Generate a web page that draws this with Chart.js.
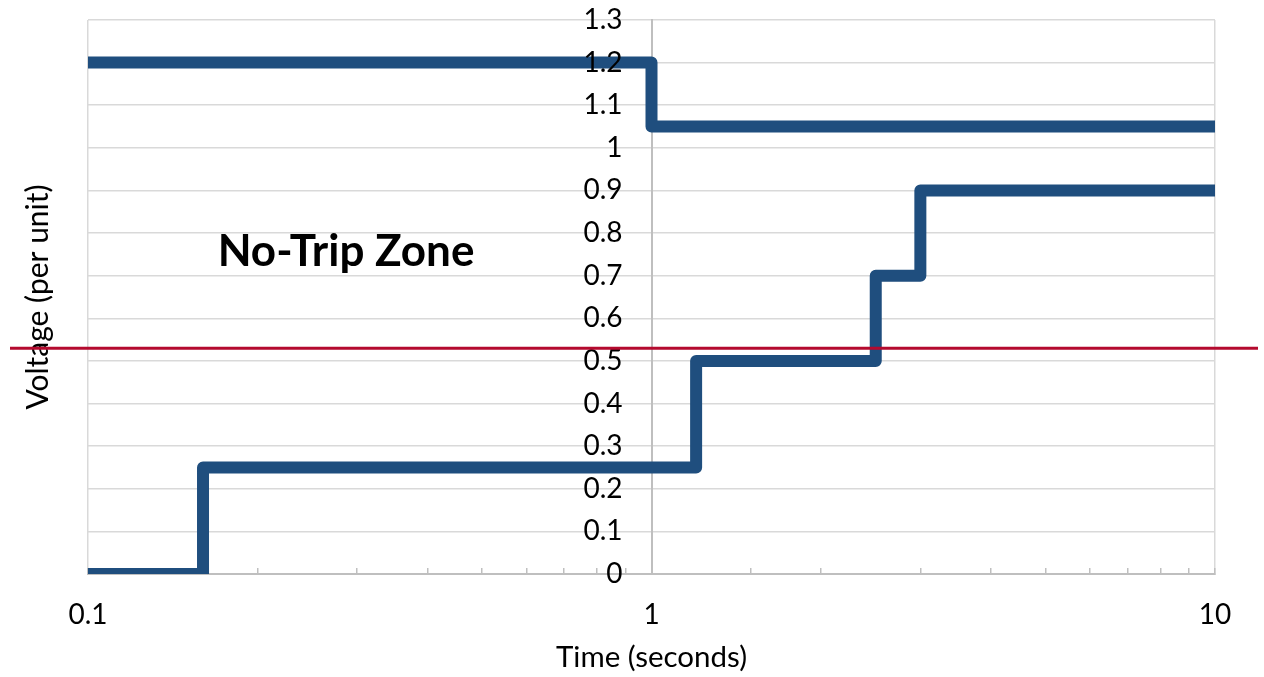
<!DOCTYPE html>
<html><head><meta charset="utf-8">
<script src="https://cdn.jsdelivr.net/npm/chart.js@4/dist/chart.umd.min.js"></script>
<style>html,body{margin:0;padding:0;background:#fff;overflow:hidden}</style>
</head><body>
<canvas id="c" width="1264" height="677" style="width:1264px;height:677px;display:block"></canvas>
<script>
const lowerTimes = [0.1, 0.16, 1.2, 2.5, 3, 10];
const lowerVolts = [0, 0.25, 0.5, 0.7, 0.9, 0.9];
const upperTimes = [0.1, 1, 10];
const upperVolts = [1.2, 1.05, 1.05];
const xTickLabels = [0.1, 1, 10];
const yTickValues = [0, 0.1, 0.2, 0.3, 0.4, 0.5, 0.6, 0.7, 0.8, 0.9, 1, 1.1, 1.2, 1.3];
const referenceVoltage = 0.53;
const zoneText = 'No-Trip Zone';
const zoneTime = 0.287;
const zoneVolt = 0.755;

const FONT = 'Lato, "Open Sans", sans-serif';
const isDecade = v => Math.abs(Math.log10(v) - Math.round(Math.log10(v))) < 1e-6;

const overlay = {
  id: 'overlay',
  afterDatasetsDraw(chart) {
    const {ctx, scales} = chart;
    ctx.save();
    ctx.font = 'bold 44px ' + FONT;
    ctx.fillStyle = '#000';
    ctx.textAlign = 'center';
    ctx.textBaseline = 'middle';
    ctx.fillText(zoneText, scales.x.getPixelForValue(zoneTime), scales.y.getPixelForValue(zoneVolt));
    ctx.restore();
  },
  afterDraw(chart) {
    const {ctx, scales} = chart;
    const y = scales.y.getPixelForValue(referenceVoltage);
    ctx.save();
    ctx.strokeStyle = '#B40A2E';
    ctx.lineWidth = 3;
    ctx.beginPath();
    ctx.moveTo(10, y);
    ctx.lineTo(chart.width - 6, y);
    ctx.stroke();
    ctx.restore();
  }
};

const toPoints = (xs, ys) => xs.map((x, i) => ({x, y: ys[i]}));

new Chart(document.getElementById('c'), {
  type: 'line',
  data: {
    datasets: [
      {data: toPoints(upperTimes, upperVolts), yAxisID: 'y', xAxisID: 'x', stepped: true,
       borderColor: '#1F4E7E', borderWidth: 12, borderJoinStyle: 'round', borderCapStyle: 'butt',
       pointRadius: 0, fill: false},
      {data: toPoints(lowerTimes, lowerVolts), yAxisID: 'y', xAxisID: 'x', stepped: true,
       borderColor: '#1F4E7E', borderWidth: 12, borderJoinStyle: 'round', borderCapStyle: 'butt',
       pointRadius: 0, fill: false}
    ]
  },
  options: {
    responsive: false,
    animation: false,
    devicePixelRatio: 1,
    layout: {padding: {left: 10, right: 49, top: 20, bottom: 0}},
    plugins: {legend: {display: false}, tooltip: {enabled: false}},
    scales: {
      x: {
        type: 'logarithmic', min: 0.1, max: 10, position: 'bottom',
        grid: {
          color: c => (c.tick && isDecade(c.tick.value)) ? '#d9d9d9' : 'rgba(0,0,0,0)',
          tickColor: '#bfbfbf', tickLength: -6, lineWidth: 1.5, tickWidth: 1.5
        },
        border: {color: '#bfbfbf', width: 2},
        ticks: {
          autoSkip: false, maxRotation: 0, padding: 30, color: '#000',
          font: {family: FONT, size: 28},
          callback: v => xTickLabels.some(t => Math.abs(t - v) < 1e-9) ? String(v) : ''
        },
        title: {display: true, text: 'Time (seconds)', color: '#000',
                font: {family: FONT, size: 29.5}, padding: {top: -22, bottom: 2}}
      },
      y: {
        type: 'linear', min: 0, max: 1.3, position: 'center',
        afterBuildTicks: s => { s.ticks = yTickValues.map(v => ({value: v})); },
        grid: {color: '#d9d9d9', drawTicks: true, tickLength: 29, tickColor: 'rgba(0,0,0,0)', lineWidth: 1.5},
        border: {color: '#bfbfbf', width: 2},
        ticks: {z: 1, padding: 0, color: '#000', font: {family: FONT, size: 28},
                callback: v => String(+v.toFixed(1))}
      },
      yTitle: {
        type: 'linear', axis: 'y', position: 'left', display: true,
        grid: {display: false, drawTicks: false}, border: {display: false}, ticks: {display: false},
        title: {display: true, text: 'Voltage (per unit)', color: '#000',
                font: {family: FONT, size: 30}, padding: {top: 10, bottom: 32}}
      }
    }
  },
  plugins: [overlay]
});
</script>
</body></html>
